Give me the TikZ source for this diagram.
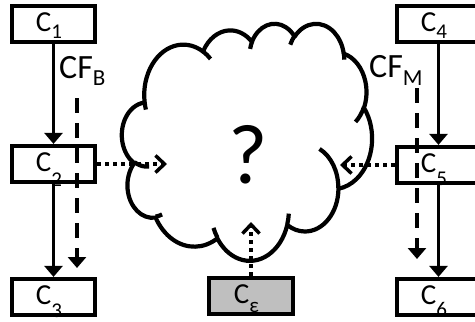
\documentclass[tikz,border=0pt]{standalone}
\usepackage{fontspec}
\setmainfont{Carlito}
\usetikzlibrary{arrows.meta}
\definecolor{boxgray}{RGB}{191,191,191}
% C with a lowered index; #2 is the drop in pt
\newcommand\csub[2]{C\raisebox{-#2pt}{\fontsize{21}{21}\selectfont #1}\hspace*{9pt}}
\tikzset{
  box/.style={draw, line width=4.2pt, minimum width=83pt, minimum height=36pt,
    inner sep=0pt, fill=white, text height=15pt, text depth=0pt,
    font=\fontsize{29}{29}\selectfont},
  flow/.style={line width=3.4pt, -{Triangle[length=11pt,width=18pt]}},
  flowdash/.style={flow, dash pattern=on 15pt off 10pt},
  probe/.style={line width=4pt, dash pattern=on 4pt off 4pt,
    -{Straight Barb[length=9pt,width=17pt,line width=3.5pt]}},
  cloudline/.style={line width=4.2pt, line join=round},
  % elliptic arc from the current point: x radius, y radius,
  % start angle and sweep, angles measured as seen (not parametric)
  cldarc/.style n args={4}{insert path={
    arc[start angle={atan2(#1*sin(#3),#2*cos(#3))},
        delta angle={mod(atan2(#1*sin(#3+#4),#2*cos(#3+#4))-atan2(#1*sin(#3),#2*cos(#3))+720,360)},
        x radius=#1, y radius=#2]}}
}
\begin{document}
\begin{tikzpicture}[x=1pt,y=-1pt]
\useasboundingbox (0,0) rectangle (475,322);
\clip (0,0) rectangle (475,322);

% the cloud
\begin{scope}[shift={(122,23)}, x=0.5787pt, y=-0.5486pt]
  \draw[cloudline, fill=white] (39.00,143.70)
    [cldarc={67.53}{91.90}{-190.4875}{123.7805}]
    [cldarc={53.33}{72.67}{-144.1024}{89.9452}]
    [cldarc={43.65}{59.45}{-145.8079}{99.7230}]
    [cldarc={48.57}{65.95}{-130.9861}{117.2417}]
    [cldarc={53.33}{72.73}{-78.7089}{109.0269}]
    [cldarc={67.75}{92.20}{-46.2673}{130.2690}]
    [cldarc={57.85}{78.67}{0.6250}{114.0333}]
    [cldarc={67.52}{92.15}{22.4516}{115.1726}]
    [cldarc={77.20}{105.43}{66.2426}{75.7110}]
    [cldarc={43.60}{59.18}{-274.9421}{146.7356}]
    [cldarc={43.45}{59.45}{-246.8285}{152.5189}]
    -- cycle;
  % inner folds of the cloud
  \draw[cloudline]
    (46.93,261.77) [cldarc={43.45}{59.45}{86.7420}{26.4295}]
    (69.28,348.99) [cldarc={43.60}{59.18}{73.6105}{11.4475}]
    (164.78,390.90) [cldarc={67.52}{92.15}{137.6242}{14.0811}]
    (288.27,347.51) [cldarc={67.52}{92.15}{6.4533}{15.9984}]
    (341.29,229.54) [cldarc={57.85}{78.67}{-70.2924}{70.9174}]
    (417.98,153.54) [cldarc={53.33}{72.73}{30.3180}{27.7515}]
    (383.24,54.26) [cldarc={48.57}{65.95}{-13.7443}{14.8589}]
    (290.78,39.52) [cldarc={48.57}{65.95}{-149.1815}{18.1954}]
    (221.41,47.20) [cldarc={43.65}{59.45}{-163.4943}{17.6864}]
    (140.00,51.92) [cldarc={67.53}{91.90}{-66.7070}{12.3194}]
    (41.27,157.89) [cldarc={67.53}{91.90}{157.6544}{11.8582}];
\end{scope}

\node[font=\fontsize{85}{85}\selectfont, anchor=base, inner sep=0pt] (q) at (248,183) {?};

% components
\node[box] (c1) at (53.5,24) {\csub{1}{7}};
\node[box] (c2) at (53.5,164) {\csub{2}{15}};
\node[box] (c3) at (53.5,297) {\csub{3}{13}};
\node[box] (c4) at (438.5,24) {\csub{4}{7}};
\node[box] (c5) at (438.5,165) {\csub{5}{13}};
\node[box] (c6) at (438.5,297) {\csub{6}{12}};
\node[box, fill=boxgray, minimum width=84pt] (ce) at (251,296) {\csub{ε}{9}};

% control flows
\node[anchor=base west, inner sep=0pt, font=\fontsize{34}{34}\selectfont] (cfb) at (59,78)
  {CF\raisebox{-7pt}{\fontsize{23}{23}\selectfont B}};
\node[anchor=base west, inner sep=0pt, font=\fontsize{34}{34}\selectfont] (cfm) at (369,77)
  {CF\raisebox{-8pt}{\fontsize{23}{23}\selectfont M}};

\coordinate (db0) at (77,98);
\coordinate (db1) at (77,268);
\coordinate (dm0) at (417,88);
\coordinate (dm1) at (417,259);
\coordinate (inl) at (167,164);
\coordinate (inr) at (340,165);
\coordinate (inb) at (251,222);

\draw[flow] (c1) -- (c2);
\draw[flow] (c2) -- (c3);
\draw[flow] (c4) -- (c5);
\draw[flow] (c5) -- (c6);
\draw[flowdash] (db0) -- (db1);
\draw[flowdash] (dm0) -- (dm1);

% probes into the unknown
\draw[probe] (c2.east) -- (inl);
\draw[probe] (c5.west) -- (inr);
\draw[probe] (ce.north) -- (inb);
\end{tikzpicture}
\end{document}
